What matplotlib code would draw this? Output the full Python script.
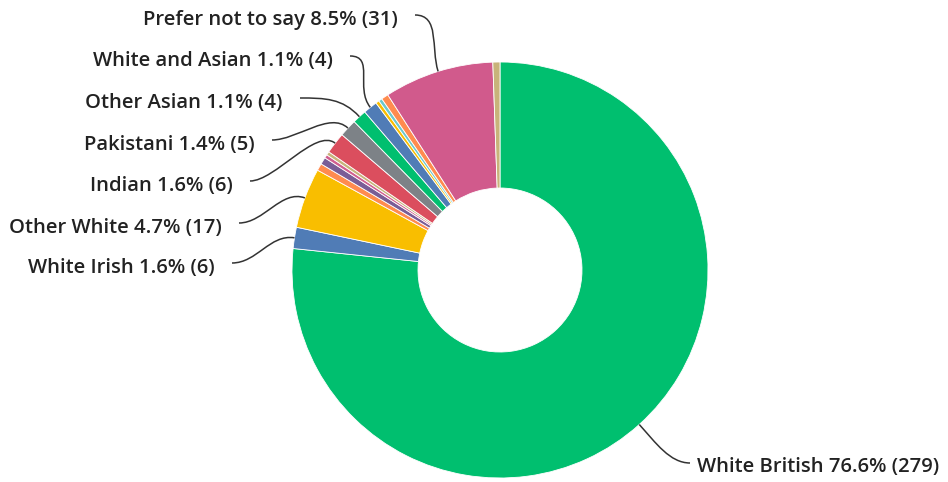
import numpy as np
import matplotlib.pyplot as plt
from matplotlib.path import Path
from matplotlib.patches import PathPatch

# 族群回答（顺时针，从正上方开始）
categories = ['White British', 'White Irish', 'Other White', 'Mixed other', 'White and Black Caribbean',
              'White and Black African', 'Other mixed', 'Indian', 'Pakistani', 'Other Asian',
              'White and Asian', 'Bangladeshi', 'Chinese', 'Black African', 'Prefer not to say', 'Other']
counts = [279, 6, 17, 2, 2, 1, 1, 6, 5, 4, 4, 1, 1, 2, 31, 2]
colors = ['#00BF6F', '#507CB6', '#F9BE00', '#FF8B4F', '#7A5D96', '#D25F90', '#C8B37A', '#DB4E5E',
          '#7D8287', '#00BF6F', '#507CB6', '#F9BE00', '#6BC8CD', '#FF8B4F', '#D15A8C', '#C8B37A']
labeled = ['White British', 'White Irish', 'Other White', 'Indian', 'Pakistani',
           'Other Asian', 'White and Asian', 'Prefer not to say']

W, H = 948, 482
cx, cy, R, RW = 500, H - 270, 208, 126

fig = plt.figure(figsize=(W / 100, H / 100), dpi=100)
ax = fig.add_axes([0, 0, 1, 1])

wedges, _ = ax.pie(counts, colors=colors, startangle=90, counterclock=False,
                   center=(cx, cy), radius=R, frame=True,
                   wedgeprops=dict(width=RW, edgecolor='white', linewidth=0.6))
ax.set_xlim(0, W)
ax.set_ylim(0, H)
ax.set_aspect('equal')
ax.axis('off')

total = sum(counts)

# 标签位置：文字端点 (x, y像素), 对齐方式
label_pos = {
    'Prefer not to say': (398, 20, 'right'),
    'White and Asian': (333, 61, 'right'),
    'Other Asian': (283, 103, 'right'),
    'Pakistani': (255, 145, 'right'),
    'Indian': (233, 186, 'right'),
    'Other White': (222, 228, 'right'),
    'White Irish': (215, 268, 'right'),
    'White British': (697, 467, 'left'),
}

for w, name, n in zip(wedges, categories, counts):
    if name not in labeled:
        continue
    pct = n / total * 100
    x, yp, ha = label_pos[name]
    y = H - yp
    ax.text(x, y, f'{name} {pct:.1f}% ({n})', ha=ha, va='center', fontsize=14.6,
            family=['Open Sans', 'DejaVu Sans'], fontweight='semibold', color='#222222')
    ang = np.deg2rad((w.theta1 + w.theta2) / 2)
    p3 = np.array([cx + R * np.cos(ang), cy + R * np.sin(ang)])
    out = np.array([np.cos(ang), np.sin(ang)])
    if ha == 'right':
        p0 = np.array([x + 17, y + 5])
        p1 = p0 + np.array([25, 0])
    else:
        p0 = np.array([x - 7, y + 4])
        p1 = p0 + np.array([-20, 0])
    p2 = p3 + out * 25
    path = Path([p0, p1, p2, p3], [Path.MOVETO, Path.CURVE4, Path.CURVE4, Path.CURVE4])
    ax.add_patch(PathPatch(path, fc='none', ec='#333333', lw=1.1))

fig.savefig('out.png', dpi=100)
